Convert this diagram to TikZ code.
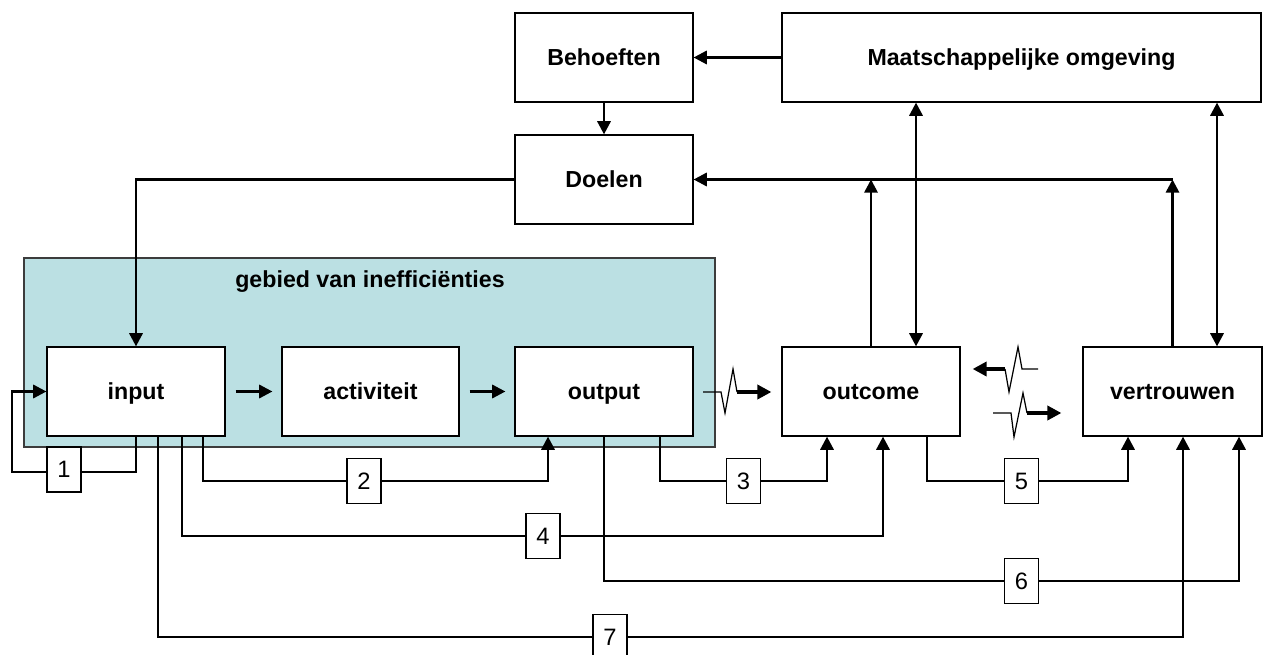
\documentclass[tikz,border=0pt]{standalone}
\usepackage{fontspec}
\setmainfont{Liberation Sans}
\usetikzlibrary{arrows.meta,calc}
\definecolor{zone}{RGB}{187,224,227}
\definecolor{zoneedge}{RGB}{60,60,60}
\begin{document}
\begin{tikzpicture}[x=0.02cm,y=-0.02cm,
  box/.style={draw,line width=0.7pt,fill=white,minimum width=3.56cm,minimum height=1.78cm,
    inner sep=0pt,text height=9.4pt,text depth=0pt,font=\fontsize{13.2}{15}\selectfont\bfseries},
  num/.style={draw,line width=0.7pt,fill=white,minimum width=0.68cm,minimum height=0.9cm,
    inner sep=0pt,text height=9.6pt,text depth=0pt,font=\fontsize{13.5}{15}\selectfont},
  conn/.style={line width=1.5pt},
  tip/.style={-{Triangle[length=7.5pt,width=7.5pt]}},
  twotips/.style={{Triangle[length=7.5pt,width=7.5pt]}-{Triangle[length=7.5pt,width=7.5pt]}},
  zig/.style={line width=0.7pt},
  fat/.style={line width=2.3pt,-{Triangle[length=8pt,width=8pt]}}]

\useasboundingbox (0,0) rectangle (1263,655);
\fill[white] (0,0) rectangle (1263,655);

% area of inefficiencies
\draw[fill=zone,draw=zoneedge,line width=0.7pt] (24,258) rectangle (715,447);
\node[font=\fontsize{13.2}{15}\selectfont\bfseries] (zonetitle) at (370,282) {gebied van inefficiënties};

% boxes
\node[box] (behoeften) at (604,57.5) {Behoeften};
\node[box,minimum width=9.58cm] (maat) at (1021.5,57.5) {Maatschappelijke omgeving};
\node[box] (doelen) at (604,179.5) {Doelen};
\node[box] (input) at (136,391.5) {input};
\node[box,minimum width=3.54cm] (activiteit) at (370.5,391.5) {activiteit};
\node[box] (output) at (604,391.5) {output};
\node[box] (outcome) at (871,391.5) {outcome};
\node[box,minimum width=3.58cm] (vertrouwen) at (1172.5,391.5) {vertrouwen};

% upper connectors
\draw[conn,tip] (maat.west |- behoeften.east) -- (behoeften.east);
\draw[conn,tip] (behoeften.south) -- (doelen.north);
\draw[conn,tip] (doelen.west) -| (input.north);
\draw[conn,tip] (vertrouwen.north |- doelen.east) -- (doelen.east);
\draw[conn,tip] (outcome.north) -- (outcome.north |- doelen.east);
\draw[conn,tip] (vertrouwen.north) -- (vertrouwen.north |- doelen.east);
\coordinate (m1) at (916,0);
\coordinate (m2) at (1217,0);
\draw[conn,twotips] (maat.south -| m1) -- (outcome.north -| m1);
\draw[conn,twotips] (maat.south -| m2) -- (vertrouwen.north -| m2);

% chain arrows
\draw[conn,tip] ($(input.east)+(10,0)$) -- ($(activiteit.west)+(-9,0)$);
\draw[conn,tip] ($(activiteit.east)+(10,0)$) -- ($(output.west)+(-9,0)$);

% disturbed transitions
\coordinate (za) at (703,392);
\draw[zig] (za) -- (721,392) -- (725,413) -- (733,369) -- (737,392);
\draw[fat] (737,392) -- ($(outcome.west |- za)+(-10,0)$);
\coordinate (zb) at (1038,369);
\draw[zig] (zb) -- (1022,369) -- (1018,347) -- (1009,392) -- (1005,369);
\draw[fat] (1005,369) -- ($(outcome.east |- zb)+(12,0)$);
\coordinate (zc) at (993,413);
\draw[zig] (zc) -- (1011,413) -- (1014,437) -- (1023,393) -- (1027,413);
\draw[fat] (1027,413) -- ($(vertrouwen.west |- zc)+(-21,0)$);

% lower connectors
\coordinate (c1) at (12,472);
\draw[conn,tip] (input.south) |- (c1) |- (input.west);

\coordinate (s2) at (203,0);   \coordinate (e2) at (548,481);
\draw[conn,tip] (input.south -| s2) |- (e2) -- (output.south -| e2);

\coordinate (s3) at (660,0);   \coordinate (e3) at (827,481);
\draw[conn,tip] (output.south -| s3) |- (e3) -- (outcome.south -| e3);

\coordinate (s4) at (182,0);   \coordinate (e4) at (883,536);
\draw[conn,tip] (input.south -| s4) |- (e4) -- (outcome.south -| e4);

\coordinate (s5) at (927,0);   \coordinate (e5) at (1128,481);
\draw[conn,tip] (outcome.south -| s5) |- (e5) -- (vertrouwen.south -| e5);

\coordinate (e6) at (1239,581);
\draw[conn,tip] (output.south) |- (e6) -- (vertrouwen.south -| e6);

\coordinate (s7) at (158,0);   \coordinate (e7) at (1183,637);
\draw[conn,tip] (input.south -| s7) |- (e7) -- (vertrouwen.south -| e7);

% route numbers
\node[num] (n1) at (64,469.5) {1};
\node[num] (n2) at (364,481) {2};
\node[num] (n3) at (743.5,481) {3};
\node[num] (n4) at (543,536) {4};
\node[num] (n5) at (1021.5,481) {5};
\node[num] (n6) at (1021.5,581) {6};
\node[num] (n7) at (610,637) {7};
\end{tikzpicture}
\end{document}
